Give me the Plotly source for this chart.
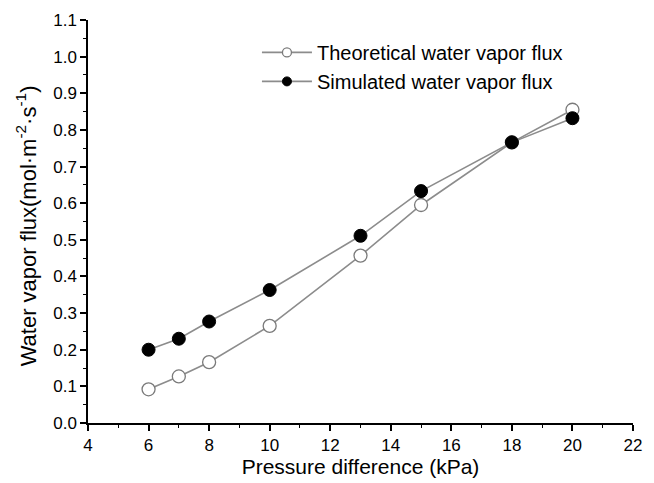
import plotly.graph_objects as go

pressure = [6, 7, 8, 10, 13, 15, 18, 20]
theoretical = [0.092, 0.127, 0.166, 0.265, 0.457, 0.595, 0.766, 0.855]
simulated = [0.200, 0.230, 0.277, 0.363, 0.511, 0.633, 0.766, 0.832]
series_names = ["Theoretical water vapor flux", "Simulated water vapor flux"]

x_ticks = [4, 6, 8, 10, 12, 14, 16, 18, 20, 22]
y_ticks = [round(i * 0.1, 1) for i in range(12)]

font = "Liberation Sans, Arial, sans-serif"
styles = [
    dict(color="white", line=dict(color="#7a7a7a", width=1.3)),
    dict(color="black", line=dict(color="black", width=1)),
]

fig = go.Figure()
for name, vals, st in zip(series_names, [theoretical, simulated], styles):
    fig.add_trace(go.Scatter(
        x=pressure, y=vals, mode="lines+markers", name=name, showlegend=False,
        line=dict(color="#8c8c8c", width=1.6),
        marker=dict(symbol="circle", size=13, **st),
    ))
for name, st in zip(series_names, styles):
    fig.add_trace(go.Scatter(
        x=[None], y=[None], mode="lines+markers", name=name, showlegend=True,
        line=dict(color="#8c8c8c", width=1.6),
        marker=dict(symbol="circle", size=9, **st),
    ))

fig.add_annotation(
    text="Water vapor flux(mol·m<sup>-2</sup>·s<sup>-1</sup>)",
    xref="paper", yref="paper", x=-0.113, y=0.489,
    xanchor="center", yanchor="middle", textangle=-90, showarrow=False,
    font=dict(size=22, family=font, color="black"),
)

fig.update_layout(
    width=654, height=483,
    margin=dict(l=88, r=21, t=20, b=60),
    paper_bgcolor="white", plot_bgcolor="white",
    font=dict(family=font, size=17, color="black"),
    showlegend=True,
    legend=dict(x=0.31, y=0.968, xanchor="left", yanchor="top",
                font=dict(size=20, family=font), bgcolor="rgba(0,0,0,0)",
                itemwidth=50, tracegroupgap=0),
    xaxis=dict(
        range=[4, 22], tickvals=x_ticks, ticktext=[str(v) for v in x_ticks],
        showgrid=False, zeroline=False, showline=True, linecolor="black", linewidth=1.5,
        ticks="outside", ticklen=6, tickwidth=1.5, tickcolor="black",
        minor=dict(dtick=1, tick0=4, ticks="outside", ticklen=3, tickwidth=1.2, tickcolor="black"),
        tickfont=dict(size=17), automargin=False,
        title=dict(text="Pressure difference (kPa)", font=dict(size=21), standoff=4),
    ),
    yaxis=dict(
        range=[0, 1.1], tickvals=y_ticks, ticktext=[f"{v:.1f}" for v in y_ticks],
        showgrid=False, zeroline=False, showline=True, linecolor="black", linewidth=1.5,
        ticks="outside", ticklen=6, tickwidth=1.5, tickcolor="black",
        minor=dict(dtick=0.05, tick0=0, ticks="outside", ticklen=3, tickwidth=1.2, tickcolor="black"),
        tickfont=dict(size=17), automargin=False,
    ),
)

fig.write_html("out.html", config={"displayModeBar": False},
               post_script="document.body.style.margin='0';")
